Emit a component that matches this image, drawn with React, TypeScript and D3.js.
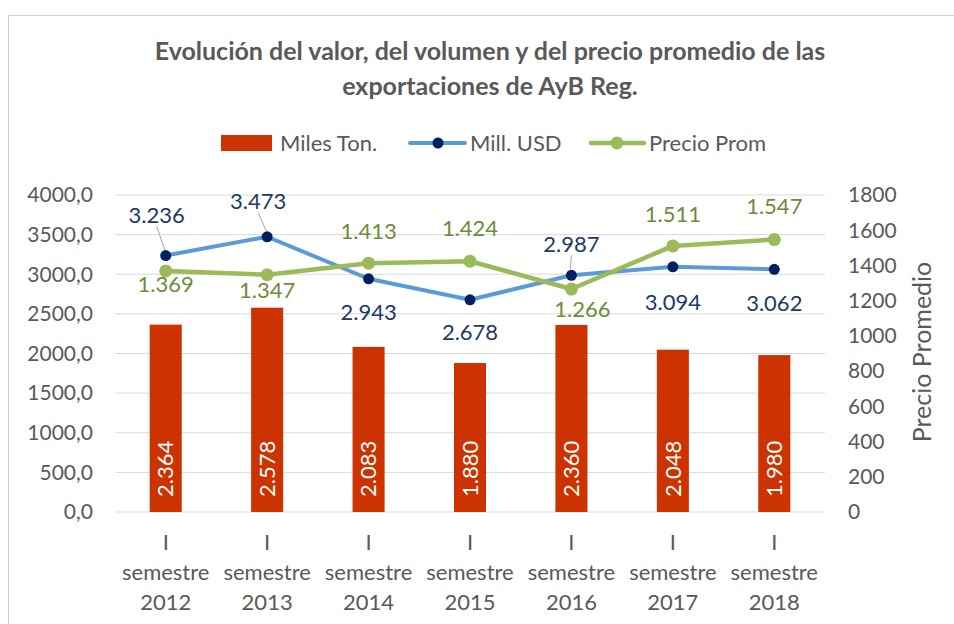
import React from "react";
import * as d3 from "d3";

const categories = ["2012", "2013", "2014", "2015", "2016", "2017", "2018"];
const milesTon = [2364, 2578, 2083, 1880, 2360, 2048, 1980];
const millUSD = [3236, 3473, 2943, 2678, 2987, 3094, 3062];
const precioProm = [1369, 1347, 1413, 1424, 1266, 1511, 1547];
const leftTicks = [0, 500, 1000, 1500, 2000, 2500, 3000, 3500, 4000];
const rightTicks = [0, 200, 400, 600, 800, 1000, 1200, 1400, 1600, 1800];

// label layout (offsets from the point, in px)
const usdLabelOffset: [number, number][] = [[-9, -40], [-9, -35], [0, 34], [0, 33], [0, -31], [0, 35], [0, 34]];
const usdLeader = [true, true, false, false, true, false, false];
const precioLabelOffset: [number, number][] = [[0, 13], [0, 16], [0, -32], [0, -33], [11, 20], [0, -32], [0, -33]];

const W = 954, H = 624;
const FONT = "Lato, 'Open Sans', sans-serif";
const GRAY = "#595959";
const BAR = "#CC3300";
const BLUE = "#5B9BD5";
const NAVY = "#002060";
const GREEN = "#9BBB59";
const BLUE_TXT = "#203864";
const GREEN_TXT = "#6F8A38";

const loc = d3.formatLocale({ decimal: ",", thousands: ".", grouping: [3], currency: ["", ""] });
const fmtThousands = loc.format(",d");
const fmtLeft = loc.format(".1f");

export default function App() {
  const x = d3.scaleBand<string>().domain(categories).range([115, 825]).paddingInner(0.684).paddingOuter(0.342);
  const yL = d3.scaleLinear().domain([0, 4000]).range([512, 195]);
  const yR = d3.scaleLinear().domain([0, 1800]).range([512, 195]);
  const cx = (c: string) => (x(c) as number) + x.bandwidth() / 2;

  const usdLine = d3.line<number>().x((_, i) => cx(categories[i])).y((d) => yL(d));
  const precioLine = d3.line<number>().x((_, i) => cx(categories[i])).y((d) => yR(d));

  const LEG_Y = 143;

  return (
    <svg width={W} height={H} style={{ position: "absolute", left: 0, top: 0, background: "#fff" }} fontFamily={FONT}>
      <rect x={8.5} y={15.5} width={1000} height={700} fill="#fff" stroke="#D0D0D0" strokeWidth={1} />
      <text x={490} y={60} textAnchor="middle" fontSize={25} fontWeight="bold" fill={GRAY}>
        Evolución del valor, del volumen y del precio promedio de las
      </text>
      <text x={490} y={95} textAnchor="middle" fontSize={25} fontWeight="bold" fill={GRAY}>
        exportaciones de AyB Reg.
      </text>

      {/* legend */}
      <g fontSize={22} fill={GRAY}>
        <rect x={221} y={LEG_Y - 8} width={51} height={16} fill={BAR} />
        <text x={280} y={LEG_Y} dy="0.35em">Miles Ton.</text>
        <line x1={410} x2={465} y1={LEG_Y} y2={LEG_Y} stroke={BLUE} strokeWidth={4} strokeLinecap="round" />
        <circle cx={438} cy={LEG_Y} r={5.5} fill={NAVY} />
        <text x={470} y={LEG_Y} dy="0.35em">Mill. USD</text>
        <line x1={591} x2={644} y1={LEG_Y} y2={LEG_Y} stroke={GREEN} strokeWidth={4.5} strokeLinecap="round" />
        <circle cx={617} cy={LEG_Y} r={6.5} fill={GREEN} />
        <text x={649} y={LEG_Y} dy="0.35em">Precio Prom</text>
      </g>

      {/* gridlines */}
      {leftTicks.map((t) => (
        <line key={t} x1={115} x2={825} y1={yL(t)} y2={yL(t)} stroke="#D9D9D9" strokeWidth={1} />
      ))}

      {/* left ticks */}
      <g fontSize={21} fill={GRAY} textAnchor="end">
        {leftTicks.map((t) => (
          <text key={t} x={93} y={yL(t)} dy="0.35em">{fmtLeft(t)}</text>
        ))}
      </g>
      {/* right ticks */}
      <g fontSize={21} fill={GRAY} textAnchor="start">
        {rightTicks.map((t) => (
          <text key={t} x={848} y={yR(t)} dy="0.35em">{t}</text>
        ))}
      </g>
      <text transform="translate(922,352) rotate(-90)" textAnchor="middle" dy="0.35em" fontSize={25} fill={GRAY}>
        Precio Promedio
      </text>

      {/* x labels */}
      <g fontSize={22} fill={GRAY} textAnchor="middle">
        {categories.map((c) => (
          <g key={c}>
            <text x={cx(c)} y={550}>I</text>
            <text x={cx(c)} y={580}>semestre</text>
            <text x={cx(c)} y={610}>{c}</text>
          </g>
        ))}
      </g>

      {/* bars */}
      {milesTon.map((v, i) => (
        <rect key={i} x={x(categories[i])} y={yL(v)} width={x.bandwidth()} height={yL(0) - yL(v)} fill={BAR} />
      ))}
      {milesTon.map((v, i) => (
        <text key={i} transform={`translate(${cx(categories[i])},${yL(0) - 15}) rotate(-90)`} dy="0.35em"
          fontSize={22} fill="#fff" textAnchor="start">{fmtThousands(v)}</text>
      ))}

      {/* lines */}
      <path d={usdLine(millUSD) || ""} fill="none" stroke={BLUE} strokeWidth={4} strokeLinejoin="round" />
      <path d={precioLine(precioProm) || ""} fill="none" stroke={GREEN} strokeWidth={4.5} strokeLinejoin="round" />

      {/* leaders */}
      {millUSD.map((v, i) => {
        if (!usdLeader[i]) return null;
        const px = cx(categories[i]), py = yL(v);
        const lx = px + usdLabelOffset[i][0], ly = py + usdLabelOffset[i][1];
        return <line key={i} x1={lx} y1={ly + 11} x2={px - 1} y2={py - 6} stroke="#A6A6A6" strokeWidth={1} />;
      })}

      {millUSD.map((v, i) => (
        <circle key={i} cx={cx(categories[i])} cy={yL(v)} r={5.5} fill={NAVY} />
      ))}
      {precioProm.map((v, i) => (
        <circle key={i} cx={cx(categories[i])} cy={yR(v)} r={6.5} fill={GREEN} />
      ))}

      {/* point labels */}
      <g fontSize={22} textAnchor="middle">
        {millUSD.map((v, i) => (
          <text key={i} x={cx(categories[i]) + usdLabelOffset[i][0]} y={yL(v) + usdLabelOffset[i][1]} dy="0.35em" fill={BLUE_TXT}>
            {fmtThousands(v)}
          </text>
        ))}
        {precioProm.map((v, i) => (
          <text key={i} x={cx(categories[i]) + precioLabelOffset[i][0]} y={yR(v) + precioLabelOffset[i][1]} dy="0.35em" fill={GREEN_TXT}>
            {fmtThousands(v)}
          </text>
        ))}
      </g>
    </svg>
  );
}
